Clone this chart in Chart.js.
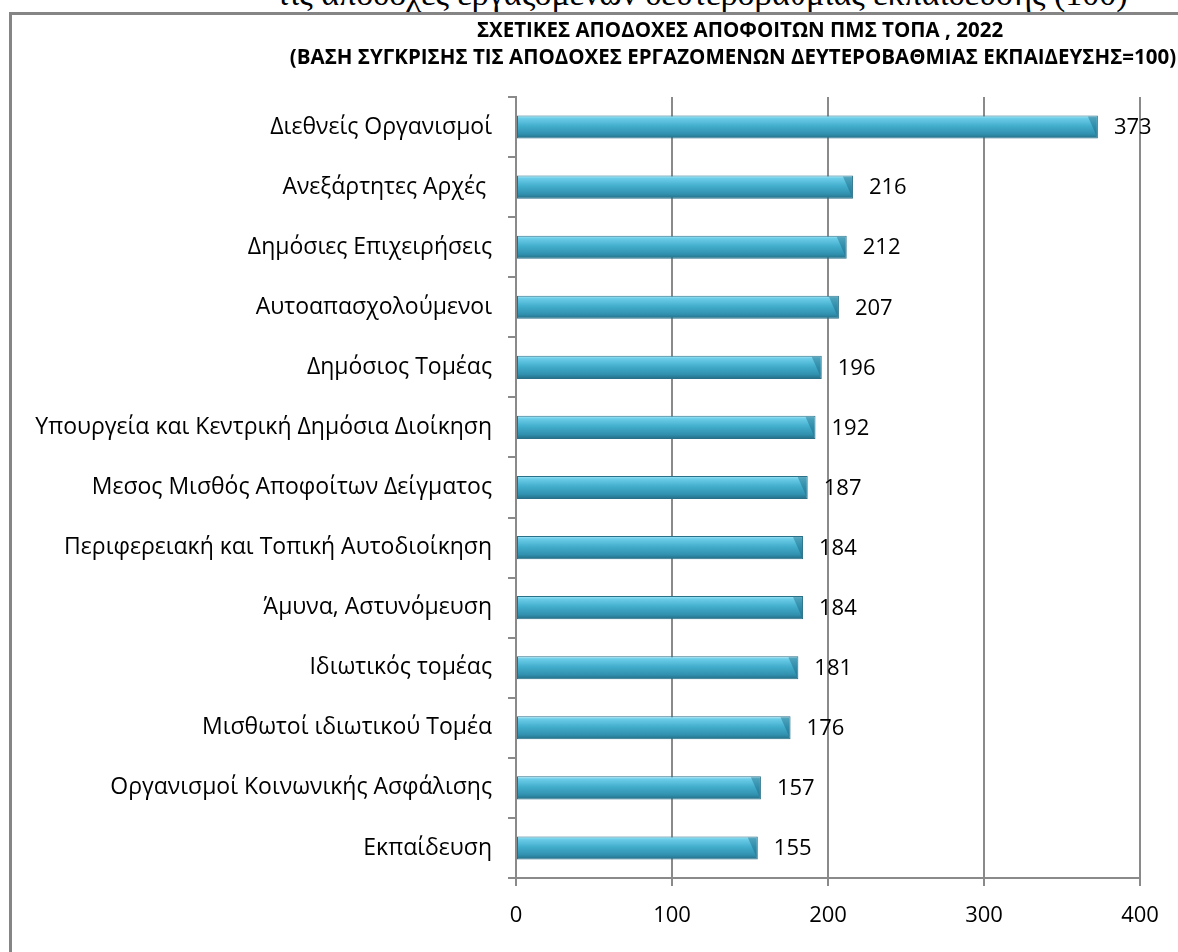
<!DOCTYPE html>
<html>
<head>
<meta charset="utf-8">
<script src="https://cdn.jsdelivr.net/npm/chart.js@4.4.0/dist/chart.umd.min.js"></script>
<style>
  html, body { margin: 0; padding: 0; background: #fff; overflow: hidden; }
  body { width: 1178px; height: 952px; position: relative; }
  .cut-title {
    position: absolute; left: 0; width: 1178px; top: -23px; padding-left: 226px; box-sizing: border-box;
    text-align: center; font-family: "Liberation Serif", serif; font-size: 34px; line-height: 34px;
    color: #000; white-space: nowrap;
  }
  .frame {
    position: absolute; left: 9px; top: 12px; width: 1300px; height: 1000px;
    border-left: 3px solid #858585; border-top: 3px solid #858585; background: #fff;
  }
  #chart { position: absolute; left: 0; top: 0; }
</style>
</head>
<body>
<div class="cut-title">τις αποδοχές εργαζομένων δευτεροβάθμιας εκπαίδευσης (100)</div>
<div class="frame"></div>
<canvas id="chart" width="1178" height="952"></canvas>
<script>
const categories = [
    'Διεθνείς Οργανισμοί',
    'Ανεξάρτητες Αρχές ',
    'Δημόσιες Επιχειρήσεις',
    'Αυτοαπασχολούμενοι',
    'Δημόσιος Τομέας',
    'Υπουργεία και Κεντρική Δημόσια Διοίκηση',
    'Μεσος Μισθός Αποφοίτων Δείγματος',
    'Περιφερειακή και Τοπική Αυτοδιοίκηση',
    'Άμυνα, Αστυνόμευση',
    'Ιδιωτικός τομέας',
    'Μισθωτοί ιδιωτικού Τομέα',
    'Οργανισμοί Κοινωνικής Ασφάλισης',
    'Εκπαίδευση'
];
const values = [373, 216, 212, 207, 196, 192, 187, 184, 184, 181, 176, 157, 155];
const xTicks = [0, 100, 200, 300, 400];
const titleLines = [
    'ΣΧΕΤΙΚΕΣ ΑΠΟΔΟΧΕΣ ΑΠΟΦΟΙΤΩΝ ΠΜΣ ΤΟΠΑ , 2022',
    '(ΒΑΣΗ ΣΥΓΚΡΙΣΗΣ ΤΙΣ ΑΠΟΔΟΧΕΣ ΕΡΓΑΖΟΜΕΝΩΝ ΔΕΥΤΕΡΟΒΑΘΜΙΑΣ ΕΚΠΑΙΔΕΥΣΗΣ=100)'
];

const FONT = "'Open Sans', 'DejaVu Sans', sans-serif";
const GRID = '#8a8a8a';
const BAR_PCT = 0.385;

// vertical gradient for each bar, built from the category band it sits in
function barFill(ctx) {
    const chart = ctx.chart;
    const y = chart.scales && chart.scales.y;
    if (!y || !chart.chartArea) return '#4ab3d2';
    const mid = y.getPixelForValue(ctx.dataIndex);
    const half = (y.height / categories.length) * BAR_PCT / 2;
    if (!Number.isFinite(mid) || !Number.isFinite(half)) return '#4ab3d2';
    const g = chart.ctx.createLinearGradient(0, mid - half, 0, mid + half);
    g.addColorStop(0, '#aeedfb');
    g.addColorStop(0.12, '#6ccde8');
    g.addColorStop(0.45, '#43aecd');
    g.addColorStop(0.8, '#3191af');
    g.addColorStop(1, '#226c84');
    return g;
}

// chamfer at the end of each bar, like the 3D look of the original
const barEnds = {
    id: 'barEnds',
    afterDatasetsDraw(chart) {
        const c = chart.ctx;
        c.save();
        chart.getDatasetMeta(0).data.forEach(bar => {
            const h = bar.height, top = bar.y - h / 2, bot = bar.y + h / 2;
            c.beginPath();
            c.moveTo(bar.x - 10, top + 1);
            c.lineTo(bar.x - 1, top + 1);
            c.lineTo(bar.x - 1, bot - 2);
            c.closePath();
            c.fillStyle = 'rgba(25,95,120,0.4)';
            c.fill();
        });
        c.restore();
    }
};

const titlePlugin = {
    id: 'twoLineTitle',
    afterDraw(chart) {
        const c = chart.ctx;
        c.save();
        c.fillStyle = '#000';
        c.font = "bold 20.5px " + FONT;
        c.textAlign = 'center';
        c.textBaseline = 'middle';
        c.fillText(titleLines[0], 740, 31);
        c.fillText(titleLines[1], 733, 58);
        c.restore();
    }
};

const valueLabels = {
    id: 'valueLabels',
    afterDatasetsDraw(chart) {
        const c = chart.ctx;
        const meta = chart.getDatasetMeta(0);
        c.save();
        c.fillStyle = '#000';
        c.font = "22px " + FONT;
        c.textAlign = 'left';
        c.textBaseline = 'middle';
        meta.data.forEach((bar, i) => {
            c.fillText(String(values[i]), bar.x + 16, bar.y + 1);
        });
        c.restore();
    }
};

new Chart(document.getElementById('chart'), {
    type: 'bar',
    data: {
        labels: categories,
        datasets: [{
            data: values,
            backgroundColor: barFill,
            borderColor: '#2a7088',
            borderWidth: 1,
            borderSkipped: false,
            barPercentage: BAR_PCT,
            categoryPercentage: 1
        }]
    },
    options: {
        indexAxis: 'y',
        responsive: false,
        animation: false,
        layout: { padding: { left: 0, top: 97, right: 38, bottom: 0 } },
        plugins: { legend: { display: false }, tooltip: { enabled: false } },
        scales: {
            x: {
                min: 0, max: 400,
                afterBuildTicks: s => { s.ticks = xTicks.map(v => ({ value: v })); },
                afterFit: s => { s.height = 74; },
                grid: { color: GRID, lineWidth: 2, tickLength: 8 },
                border: { color: GRID, width: 2 },
                ticks: { color: '#000', font: { family: FONT, size: 22 }, padding: 17 }
            },
            y: {
                afterFit: s => { s.width = 516; },
                grid: { drawOnChartArea: false, offset: true, color: GRID, lineWidth: 2, tickLength: 8 },
                border: { color: GRID, width: 2 },
                ticks: { color: '#000', font: { family: FONT, size: 23 }, padding: 16 }
            }
        }
    },
    plugins: [barEnds, titlePlugin, valueLabels]
});
</script>
</body>
</html>
